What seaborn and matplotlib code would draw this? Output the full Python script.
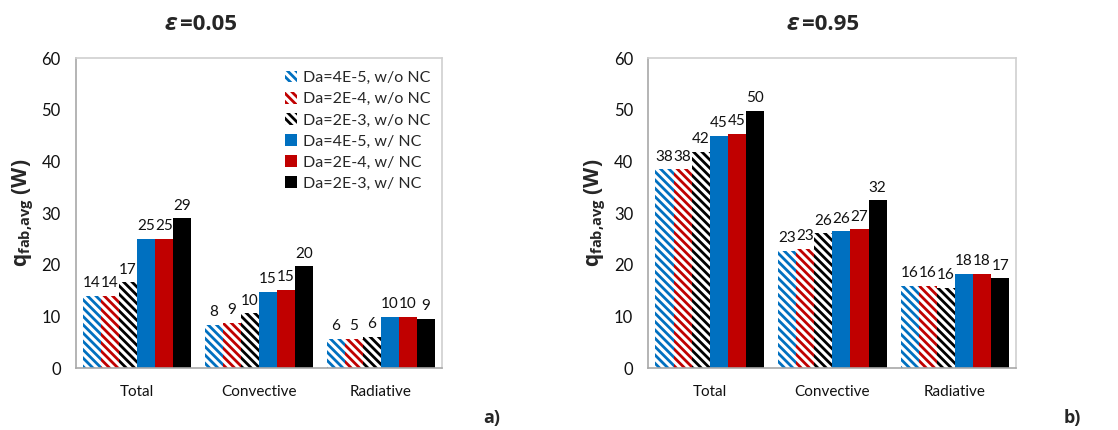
import matplotlib
matplotlib.use("Agg")
import matplotlib.pyplot as plt
import matplotlib.patches as mpatches
import seaborn as sns
import pandas as pd

categories = ["Total", "Convective", "Radiative"]
series = ["Da=4E-5, w/o NC", "Da=2E-4, w/o NC", "Da=2E-3, w/o NC",
          "Da=4E-5, w/ NC", "Da=2E-4, w/ NC", "Da=2E-3, w/ NC"]
colors = ["#0070C0", "#C00000", "#000000", "#0070C0", "#C00000", "#000000"]
hatched = [True, True, True, False, False, False]

# eps = 0.05 : values per series over categories (Total, Convective, Radiative)
vals_a = [
    [14.0, 8.4, 5.7],
    [14.0, 8.8, 5.7],
    [16.6, 10.6, 6.1],
    [25.0, 14.8, 9.9],
    [25.0, 15.2, 9.9],
    [29.0, 19.7, 9.5],
]
labels_a = [
    ["14", "8", "6"],
    ["14", "9", "5"],
    ["17", "10", "6"],
    ["25", "15", "10"],
    ["25", "15", "10"],
    ["29", "20", "9"],
]
# eps = 0.95
vals_b = [
    [38.5, 22.7, 15.9],
    [38.5, 23.1, 15.9],
    [41.9, 26.1, 15.5],
    [45.0, 26.5, 18.2],
    [45.3, 26.9, 18.2],
    [49.8, 32.5, 17.4],
]
labels_b = [
    ["38", "23", "16"],
    ["38", "23", "16"],
    ["42", "26", "16"],
    ["45", "26", "18"],
    ["45", "27", "18"],
    ["50", "32", "17"],
]
yticks = [0, 10, 20, 30, 40, 50, 60]

sns.set_theme(style="white")
plt.rcParams["font.family"] = ["Lato", "DejaVu Sans"]
plt.rcParams["mathtext.fontset"] = "custom"
plt.rcParams["mathtext.rm"] = "Open Sans"
plt.rcParams["mathtext.bf"] = "Open Sans:bold"
plt.rcParams["hatch.linewidth"] = 2.0

HATCH = "\\\\\\\\"
BOLD = ["Open Sans", "DejaVu Sans"]

fig = plt.figure(figsize=(11.18, 4.30), dpi=100)
ax_a = fig.add_axes([0.068, 0.144, 0.327, 0.721])
ax_b = fig.add_axes([0.580, 0.144, 0.329, 0.721])


def make_df(vals):
    rows = []
    for s, v in zip(series, vals):
        for c, y in zip(categories, v):
            rows.append({"cat": c, "series": s, "val": y})
    return pd.DataFrame(rows)


def draw(ax, vals, labels):
    df = make_df(vals)
    sns.barplot(data=df, x="cat", y="val", hue="series", order=categories,
                hue_order=series, palette=colors, width=0.886, gap=0,
                saturation=1, legend=False, ax=ax, errorbar=None)
    for i, cont in enumerate(ax.containers):
        for bar in cont:
            bar.set_linewidth(0)
            if hatched[i]:
                bar.set_facecolor("white")
                bar.set_edgecolor(colors[i])
                bar.set_hatch(HATCH)
        ax.bar_label(cont, labels=labels[i], padding=4, fontsize=11,
                     color="#111111")
    ax.set_xlim(-0.5, 2.5)
    ax.set_ylim(0, 60)
    ax.set_yticks(yticks)
    ax.set_xlabel("")
    ax.set_ylabel(r"q$_{\mathbf{fab{,}avg}}$ (W)", fontsize=15,
                  fontweight="bold", family=BOLD, labelpad=4)
    ax.tick_params(axis="y", labelsize=12, length=0, pad=11, colors="#111111")
    ax.tick_params(axis="x", labelsize=11, length=0, pad=12, colors="#111111")
    for side in ["top", "right"]:
        ax.spines[side].set_color("#D0D0D0")
        ax.spines[side].set_linewidth(1.2)
    for side in ["left", "bottom"]:
        ax.spines[side].set_color("#A8A8A8")
        ax.spines[side].set_linewidth(1.2)
    ax.grid(False)


draw(ax_a, vals_a, labels_a)
draw(ax_b, vals_b, labels_b)

handles = []
for s, c, h in zip(series, colors, hatched):
    if h:
        handles.append(mpatches.Patch(facecolor="white", edgecolor=c,
                                      hatch=HATCH, linewidth=0, label=s))
    else:
        handles.append(mpatches.Patch(facecolor=c, edgecolor=c,
                                      linewidth=0, label=s))
ax_a.legend(handles=handles, loc="upper right", frameon=False, fontsize=11.5,
            handlelength=0.75, handleheight=0.75, handletextpad=0.35,
            labelspacing=0.42, borderaxespad=0.3, bbox_to_anchor=(1.0, 0.995))

for xc, txt in [(177, "=0.05"), (799, "=0.95")]:
    fig.text(xc / 1118, 1 - 24 / 430, "ε", ha="right", va="center",
             fontsize=17, fontweight="bold", style="italic", family=BOLD)
    fig.text((xc + 3) / 1118, 1 - 24 / 430, txt, ha="left", va="center",
             fontsize=16, fontweight="bold", family=BOLD)
fig.text(492 / 1118, 1 - 418 / 430, "a)", ha="center", va="center",
         fontsize=13, fontweight="bold", family=BOLD)
fig.text(1072 / 1118, 1 - 418 / 430, "b)", ha="center", va="center",
         fontsize=13, fontweight="bold", family=BOLD)

fig.savefig("out.png", dpi=100)
